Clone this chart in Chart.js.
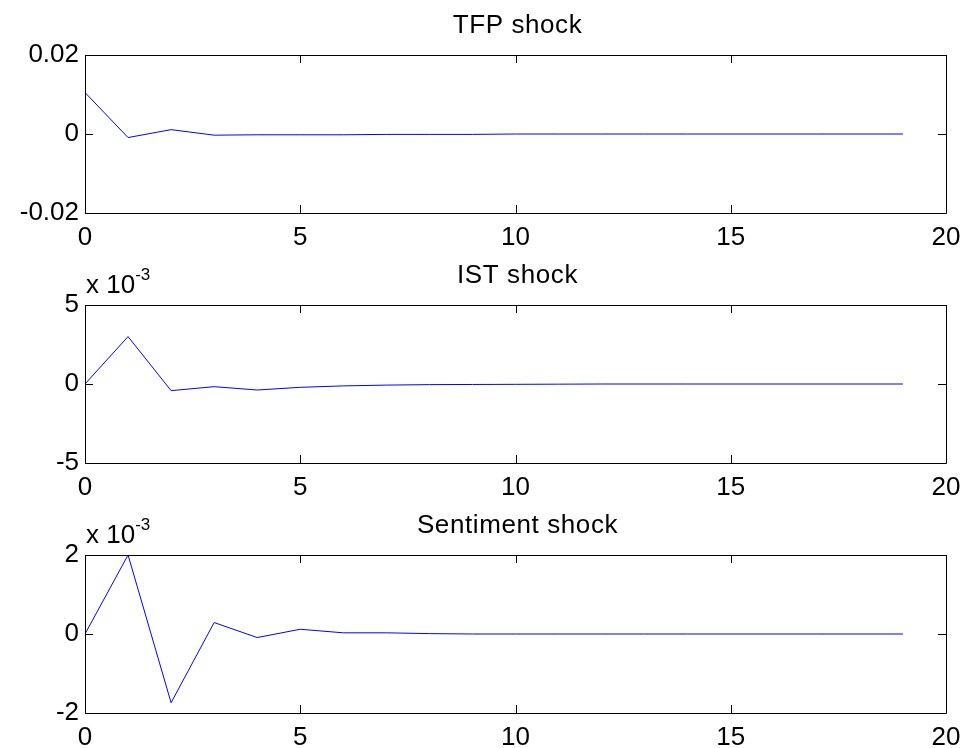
<!DOCTYPE html>
<html>
<head>
<meta charset="utf-8">
<script src="https://cdn.jsdelivr.net/npm/chart.js@4/dist/chart.umd.min.js"></script>
<style>
  html, body { margin: 0; padding: 0; background: #fff; overflow: hidden; }
  #wrap { position: relative; width: 966px; height: 748px; }
  canvas { position: absolute; left: 0; }
</style>
</head>
<body>
<div id="wrap">
  <canvas id="c1" width="966" height="250" style="top:0px"></canvas>
  <canvas id="c2" width="966" height="250" style="top:250px"></canvas>
  <canvas id="c3" width="966" height="250" style="top:500px"></canvas>
</div>
<script>
// ---- data ----
const horizons = [0,1,2,3,4,5,6,7,8,9,10,11,12,13,14,15,16,17,18,19];
const tfpShock = [0.0105,-0.0009,0.0011,-0.0003,-0.0002,-0.0002,-0.0002,-0.0001,-0.0001,-0.0001,0,0,0,0,0,0,0,0,0,0];
const istShock = [0,0.0030,-0.00042,-0.00017,-0.00038,-0.00021,-0.00012,-0.00007,-0.00004,-0.00003,-0.00002,-0.00001,0,0,0,0,0,0,0,0];
const sentimentShock = [0,0.0020,-0.00174,0.00029,-0.00009,0.00012,0.00003,0.00003,0.00001,0,0,0,0,0,0,0,0,0,0,0];
const titles = ["TFP shock", "IST shock", "Sentiment shock"];
const xTicks = [0,5,10,15,20];
const yTicks1 = [-0.02, 0, 0.02];
const yTicks2 = [-0.005, 0, 0.005];
const yTicks3 = [-0.002, 0, 0.002];
const yScaleFactor = [1, 1000, 1000];

const FONT = '"Liberation Sans", Arial, Helvetica, sans-serif';
const FS = 26;

function fmt(v) {
  let r = Number(v.toFixed(6));
  if (Object.is(r, -0) || Math.abs(r) < 1e-12) r = 0;
  return String(r);
}

const frame = {
  id: 'matlabFrame',
  afterDatasetsDraw(chart, args, opts) {
    const ctx = chart.ctx;
    const a = chart.chartArea;
    const xs = chart.scales.x, ys = chart.scales.y;
    ctx.save();
    ctx.strokeStyle = '#000';
    ctx.lineWidth = 1;
    ctx.beginPath();
    ctx.rect(Math.round(a.left) + 0.5, Math.round(a.top) + 0.5, Math.round(a.right - a.left), Math.round(a.bottom - a.top));
    ctx.stroke();
    const tl = 8;
    ctx.beginPath();
    opts.xTicks.forEach(v => {
      const px = Math.round(xs.getPixelForValue(v)) + 0.5;
      ctx.moveTo(px, a.bottom); ctx.lineTo(px, a.bottom - tl);
      ctx.moveTo(px, a.top); ctx.lineTo(px, a.top + tl);
    });
    opts.yTicks.forEach(v => {
      const py = Math.round(ys.getPixelForValue(v)) + 0.5;
      ctx.moveTo(a.left, py); ctx.lineTo(a.left + tl, py);
      ctx.moveTo(a.right, py); ctx.lineTo(a.right - tl, py);
    });
    ctx.stroke();
    // title
    ctx.fillStyle = '#000';
    ctx.font = FS + 'px ' + FONT;
    ctx.textAlign = 'center';
    ctx.textBaseline = 'alphabetic';
    try { ctx.letterSpacing = '0.6px'; } catch (e) {}
    ctx.fillText(opts.title, (a.left + a.right) / 2 + 2, 33);
    try { ctx.letterSpacing = '0px'; } catch (e) {}
    // exponent
    if (opts.exponent) {
      ctx.textAlign = 'left';
      ctx.font = FS + 'px ' + FONT;
      ctx.fillText('x 10', a.left + 1, 43);
      const w = ctx.measureText('x 10').width;
      ctx.font = '17px ' + FONT;
      ctx.fillText(opts.exponent, a.left + 1 + w, 30);
    }
    ctx.restore();
  }
};

function makeChart(id, values, title, yTicks, factor, exponent) {
  const pts = horizons.map((h, i) => ({ x: h, y: values[i] }));
  return new Chart(document.getElementById(id), {
    type: 'line',
    data: { datasets: [{ data: pts, borderColor: '#0000ff', borderWidth: 1, pointRadius: 0, tension: 0, fill: false }] },
    options: {
      responsive: false,
      animation: false,
      devicePixelRatio: 1,
      layout: { padding: { left: 0, right: 20, top: 55, bottom: 0 } },
      plugins: {
        legend: { display: false },
        tooltip: { enabled: false },
        title: { display: false },
        matlabFrame: { title: title, xTicks: xTicks, yTicks: yTicks, exponent: exponent }
      },
      scales: {
        x: {
          type: 'linear', min: xTicks[0], max: xTicks[xTicks.length - 1],
          grid: { display: false, drawTicks: false },
          border: { display: false },
          afterBuildTicks: s => { s.ticks = xTicks.map(v => ({ value: v })); },
          ticks: { color: '#000', font: { family: FONT, size: FS }, padding: 9, maxRotation: 0, autoSkip: false,
                   callback: v => fmt(v) },
          afterFit: s => { s.height = 37; s.paddingLeft = 0; s.paddingRight = 0; }
        },
        y: {
          type: 'linear', min: yTicks[0], max: yTicks[yTicks.length - 1],
          grid: { display: false, drawTicks: false },
          border: { display: false },
          afterBuildTicks: s => { s.ticks = yTicks.map(v => ({ value: v })); },
          ticks: { color: '#000', font: { family: FONT, size: FS }, padding: 6, autoSkip: false,
                   callback: v => fmt(v * factor) },
          afterFit: s => { s.width = 85; s.paddingTop = 0; s.paddingBottom = 0; }
        }
      }
    },
    plugins: [frame]
  });
}

makeChart('c1', tfpShock, titles[0], yTicks1, yScaleFactor[0], null);
makeChart('c2', istShock, titles[1], yTicks2, yScaleFactor[1], '-3');
makeChart('c3', sentimentShock, titles[2], yTicks3, yScaleFactor[2], '-3');
</script>
</body>
</html>
